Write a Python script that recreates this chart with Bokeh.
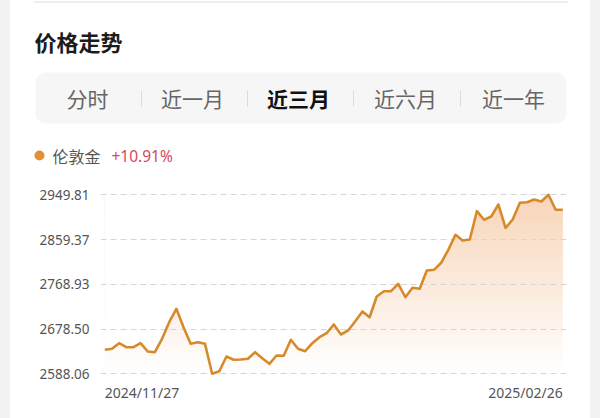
from bokeh.plotting import figure
from bokeh.layouts import column
from bokeh.models import Range1d, FixedTicker, ColumnDataSource
from bokeh.core.properties import value
from bokeh.embed import file_html
from bokeh.resources import INLINE
import numpy as np

# ---------------- data ----------------
title_text = "价格走势"
tab_labels = ["分时", "近一月", "近三月", "近六月", "近一年"]
selected_tab = "近三月"
series_name = "伦敦金"
series_change = "+10.91%"

prices = [2636.6, 2638.6, 2649.9, 2641.8, 2641.8, 2649.9, 2633.1, 2631.7, 2658.8, 2692.3,
          2719.4, 2682.2, 2648.7, 2651.9, 2648.7, 2588.06, 2593.3, 2623.0, 2616.4, 2617.0,
          2618.4, 2631.7, 2619.6, 2608.3, 2625.0, 2624.4, 2656.8, 2638.6, 2633.7, 2649.9,
          2662.0, 2670.1, 2687.7, 2667.5, 2675.6, 2694.4, 2714.0, 2702.4, 2744.3, 2755.0,
          2755.0, 2769.9, 2742.9, 2761.9, 2759.8, 2796.8, 2798.2, 2812.4, 2838.6, 2869.0,
          2857.4, 2859.5, 2916.7, 2899.3, 2906.0, 2930.2, 2883.1, 2899.9, 2933.6, 2934.8,
          2940.3, 2936.3, 2949.81, 2919.5, 2919.5]
y_ticks = [2588.06, 2678.50, 2768.93, 2859.37, 2949.81]
y_tick_labels = ["2588.06", "2678.50", "2768.93", "2859.37", "2949.81"]
date_labels = ["2024/11/27", "2025/02/26"]

CJK = value("Noto Sans CJK SC")
LAT = value("Noto Sans")
W = 580
SIDE = 10

# ---------------- header (page pixel coords) ----------------
head = figure(width=W, height=180, x_range=Range1d(SIDE, SIDE + W), y_range=Range1d(180, 0),
              output_backend="svg", toolbar_location=None, min_border=0,
              x_axis_location=None, y_axis_location=None, frame_align=False,
              margin=(0, SIDE, 0, SIDE))
head.grid.visible = False
head.outline_line_color = None
head.background_fill_color = "white"
head.border_fill_color = "white"

head.segment(x0=[33], x1=[567], y0=[1.5], y1=[1.5], line_color="#e9e9e9", line_width=1.5)

head.text(x=[34], y=[40], text=[title_text], text_font=CJK, text_font_size="22px",
          text_font_style="bold", text_color="#1c1c1c", text_baseline="middle", text_align="left")

head.quad(left=[35], right=[566], bottom=[123], top=[72], fill_color="#f6f6f6",
          line_color=None, border_radius=10)

tab_x = [87, 192, 298, 405, 513]
sep_x = [141, 247, 353, 460]
head.segment(x0=sep_x, x1=sep_x, y0=[90] * 4, y1=[106] * 4, line_color="#dcdcdc", line_width=1)
for tx, lab in zip(tab_x, tab_labels):
    sel = lab == selected_tab
    head.text(x=[tx], y=[97.5], text=[lab], text_font=CJK, text_font_size="21px",
              text_font_style="bold" if sel else "normal",
              text_color="#111111" if sel else "#666666",
              text_align="center", text_baseline="middle")

head.scatter(x=[39], y=[155], size=10, fill_color="#e39134", line_color=None)
head.text(x=[52], y=[155], text=[series_name], text_font=CJK, text_font_size="16px",
          text_color="#555555", text_align="left", text_baseline="middle")
head.text(x=[111], y=[155], text=[series_change], text_font=LAT, text_font_size="15.5px",
          text_color="#d4475c", text_align="left", text_baseline="middle")

# ---------------- chart ----------------
n = len(prices)
idx = list(range(n))
y_lo, y_hi = y_ticks[0], y_ticks[-1]
units_per_px = (y_hi - y_lo) / 179.0
top = y_hi + 6.3 * units_per_px
bottom = y_lo - 30.7 * units_per_px
px_per_idx = 458.0 / (n - 1)

chart = figure(width=W, height=238,
               x_range=Range1d(-4.3 / px_per_idx, (n - 1) + 3.7 / px_per_idx),
               y_range=Range1d(bottom, top),
               output_backend="svg", toolbar_location=None,
               min_border_left=90, min_border_right=24, min_border_top=8, min_border_bottom=14,
               x_axis_location=None, frame_align=False, margin=(0, SIDE, 0, SIDE))
chart.outline_line_color = None
chart.background_fill_color = "white"
chart.border_fill_color = "white"
chart.xgrid.visible = False

ya = chart.yaxis[0]
ya.ticker = FixedTicker(ticks=y_ticks)
ya.major_label_overrides = {t: s for t, s in zip(y_ticks, y_tick_labels)}
ya.axis_line_color = None
ya.major_tick_line_color = None
ya.minor_tick_line_color = None
ya.major_tick_in = 0
ya.major_tick_out = 0
ya.major_label_standoff = 11
ya.major_label_text_font = "Noto Sans"
ya.major_label_text_font_size = "13.5px"
ya.major_label_text_color = "#555555"

g = chart.ygrid[0]
g.ticker = FixedTicker(ticks=y_ticks)
g.grid_line_color = "#d6d6d6"
g.grid_line_dash = "6 4"
g.grid_line_width = 1

# vertical gradient under the curve: bands, then white mask above the line
nb = 60
edges = np.linspace(y_lo, y_hi, nb + 1)
c_top = np.array([248, 213, 184])
c_bot = np.array([255, 255, 255])
cols = []
for k in range(nb):
    t = (k + 0.5) / nb
    c = c_bot + (c_top - c_bot) * t
    cols.append("#%02x%02x%02x" % tuple(int(round(v)) for v in c))
step = edges[1] - edges[0]
bands = chart.quad(left=[0] * nb, right=[n - 1] * nb, bottom=list(edges[:-1]),
                   top=list(edges[1:] + step * 0.5), fill_color=cols, line_color=None)
bands.level = "image"
mask = chart.varea(x=idx, y1=prices, y2=[top + 10] * n, fill_color="white")
mask.level = "image"

src = ColumnDataSource(dict(x=idx, y=prices))
chart.line("x", "y", source=src, line_color="#d68a2c", line_width=2.6, line_join="round")

label_y = y_lo - 18.7 * units_per_px
chart.text(x=[0], y=[label_y], text=[date_labels[0]], text_font=LAT, text_font_size="14px",
           text_color="#555555", text_align="left", text_baseline="middle")
chart.text(x=[n - 1], y=[label_y], text=[date_labels[1]], text_font=LAT, text_font_size="14px",
           text_color="#555555", text_align="right", text_baseline="middle")

bg = ("linear-gradient(to right, #f2f2f2 0px, #f2f2f2 10px, #ffffff 10px, "
      "#ffffff 590px, #f2f2f2 590px, #f2f2f2 600px)")
layout = column(head, chart, spacing=0, styles={"background": bg})
open("out.html", "w").write(file_html(layout, INLINE))
